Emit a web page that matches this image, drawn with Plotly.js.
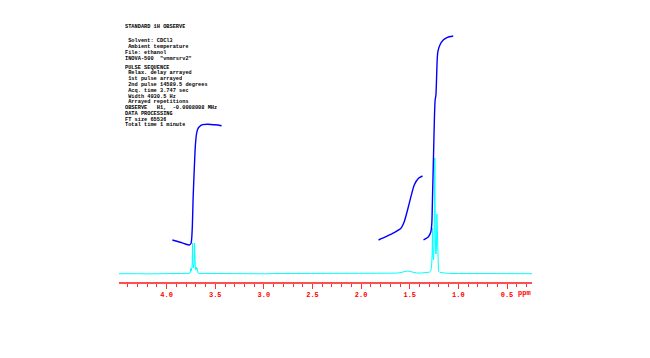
<!DOCTYPE html>
<html>
<head>
<meta charset="utf-8">
<script src="https://cdn.plot.ly/plotly-3.0.1.min.js"></script>
<style>html,body{margin:0;padding:0;background:#fff}#chart{width:650px;height:358px}</style>
</head>
<body>
<div id="chart"></div>
<script>
// Spectrum (chemical shift in ppm, intensity in arbitrary units)
const specPpm = [4.49,4.40,4.30,4.20,4.10,4.00,3.90,3.80,3.770,3.758,3.754,3.750,3.746,3.742,3.738,3.735,3.733,3.730,3.724,3.720,3.716,3.713,3.710,3.705,3.700,3.696,3.692,3.688,3.684,3.678,3.67,3.60,3.50,3.40,3.30,3.20,3.13,3.05,2.98,2.90,2.80,2.70,2.60,2.50,2.40,2.30,2.22,2.15,2.09,2.00,1.90,1.80,1.70,1.62,1.57,1.54,1.52,1.50,1.47,1.43,1.38,1.33,1.30,1.285,1.275,1.270,1.266,1.262,1.256,1.250,1.246,1.242,1.238,1.232,1.226,1.221,1.216,1.212,1.205,1.19,1.15,1.10,1.00,0.90,0.80,0.73,0.70,0.66,0.60,0.50,0.40,0.30,0.243];
const specInt = [0.3,0.0,0.3,0.1,0.4,0.5,0.5,0.6,0.6,1.0,4,6,3,5,7,20,31,12,6,8,12,31,14,6,4,7,5,6,3,1,0.6,0.5,0.5,0.4,0.5,0.4,0.1,0.0,0.2,0.5,0.5,0.5,0.5,0.5,0.6,0.5,0.3,0.1,0.3,0.6,0.6,0.7,0.8,1.0,1.8,2.8,3.0,2.6,1.6,1.0,1.0,1.3,1.8,3,8,20,46,18,14,30,60,116,40,20,24,60,30,8,3,1.5,0.8,0.6,0.5,0.5,0.5,0.2,0.0,0.3,0.5,0.5,0.4,0.3,0.3];

// Integral traces
const int1Ppm = [3.941,3.869,3.808,3.767,3.749,3.737,3.728,3.716,3.705,3.693,3.680,3.664,3.630,3.579,3.527,3.476,3.435];
const int1Val = [34,32,30,29,30.7,45,75,105,128,140,145,147.3,149.3,149.7,149.3,149,148.3];
const int2Ppm = [1.821,1.745,1.660,1.591,1.557,1.523,1.488,1.454,1.410,1.369];
const int2Val = [34,37.3,41.3,45.7,52.3,64,77.3,89,95.7,98];
const int3Ppm = [1.359,1.308,1.283,1.273,1.266,1.256,1.246,1.239,1.231,1.225,1.218,1.211,1.190,1.156,1.112,1.053];
const int3Val = [34,37.3,42.3,50.7,77.3,117.3,157.3,174,179,194,214,222.3,229,234,236.7,238];

// Axis ticks
const tickVals = [4.0,3.5,3.0,2.5,2.0,1.5,1.0,0.5];
const tickText = ["4.0","3.5","3.0","2.5","2.0","1.5","1.0","0.5"];

// Acquisition parameter header
const headerLines = [
  "STANDARD 1H OBSERVE",
  " Solvent: CDCl3",
  " Ambient temperature",
  "File: ethanol",
  "INOVA-500  \"vnmrsrv2\"",
  "PULSE SEQUENCE",
  " Relax. delay arrayed",
  " 1st pulse arrayed",
  " 2nd pulse 14589.5 degrees",
  " Acq. time 3.747 sec",
  " Width 4930.5 Hz",
  " Arrayed repetitions",
  "OBSERVE   H1,  -0.0008008 MHz",
  "DATA PROCESSING",
  "FT size 65536",
  "Total time 1 minute"
];
const headerY = [27,40,46,52.3,58.6,67,72.8,78.6,84.4,90.2,96,101.8,107.6,113.4,119.2,125];

const W = 650, H = 358, L = 119, R = 118, T = 20, B = 76;
const pw = W - L - R, ph = H - T - B;

const annotations = headerLines.map((s, i) => ({
  xref: 'paper', yref: 'paper',
  x: (124 - L) / pw, y: (H - B - headerY[i]) / ph,
  xanchor: 'left', yanchor: 'middle',
  text: s.replace(/ /g, '\u00a0'),
  showarrow: false, borderpad: 0, height: 5,
  font: {family: 'Liberation Mono, monospace', size: 5.3, color: '#000', weight: 'bold'}
}));
annotations.push({
  xref: 'x', yref: 'paper', x: 0.325, y: 0, yshift: -11,
  xanchor: 'center', yanchor: 'middle', text: 'ppm', showarrow: false,
  font: {family: 'Liberation Mono, monospace', size: 7, color: '#ff0000', weight: 'bold'}
});

const traces = [
  {x: specPpm, y: specInt, type: 'scatter', mode: 'lines', line: {color: '#00ffff', width: 1}, hoverinfo: 'skip'},
  {x: int1Ppm, y: int1Val, type: 'scatter', mode: 'lines', line: {color: '#0000ff', width: 1.4, shape: 'spline', smoothing: 0.6}, hoverinfo: 'skip'},
  {x: int2Ppm, y: int2Val, type: 'scatter', mode: 'lines', line: {color: '#0000ff', width: 1.4, shape: 'spline', smoothing: 0.6}, hoverinfo: 'skip'},
  {x: int3Ppm, y: int3Val, type: 'scatter', mode: 'lines', line: {color: '#0000ff', width: 1.4, shape: 'spline', smoothing: 0.6}, hoverinfo: 'skip'}
];

const layout = {
  width: W, height: H,
  margin: {l: L, r: R, t: T, b: B, pad: 0},
  paper_bgcolor: '#ffffff', plot_bgcolor: '#ffffff',
  showlegend: false,
  xaxis: {
    range: [4.49, 0.243], autorange: false,
    showgrid: false, zeroline: false,
    showline: true, linecolor: '#ff5050', linewidth: 2,
    ticks: 'outside', ticklen: 5, tickwidth: 1, tickcolor: '#ff3030',
    tickvals: tickVals, ticktext: tickText,
    minor: {dtick: 0.1, tick0: 0, ticks: 'outside', ticklen: 3, tickwidth: 1, tickcolor: '#ff3030', showgrid: false},
    tickfont: {family: 'Liberation Mono, monospace', size: 7, color: '#ff0000', weight: 'bold'}
  },
  yaxis: {visible: false, range: [-8, 254], autorange: false, showgrid: false, zeroline: false},
  annotations: annotations
};

Plotly.newPlot('chart', traces, layout, {displayModeBar: false, staticPlot: true});
</script>
</body>
</html>
